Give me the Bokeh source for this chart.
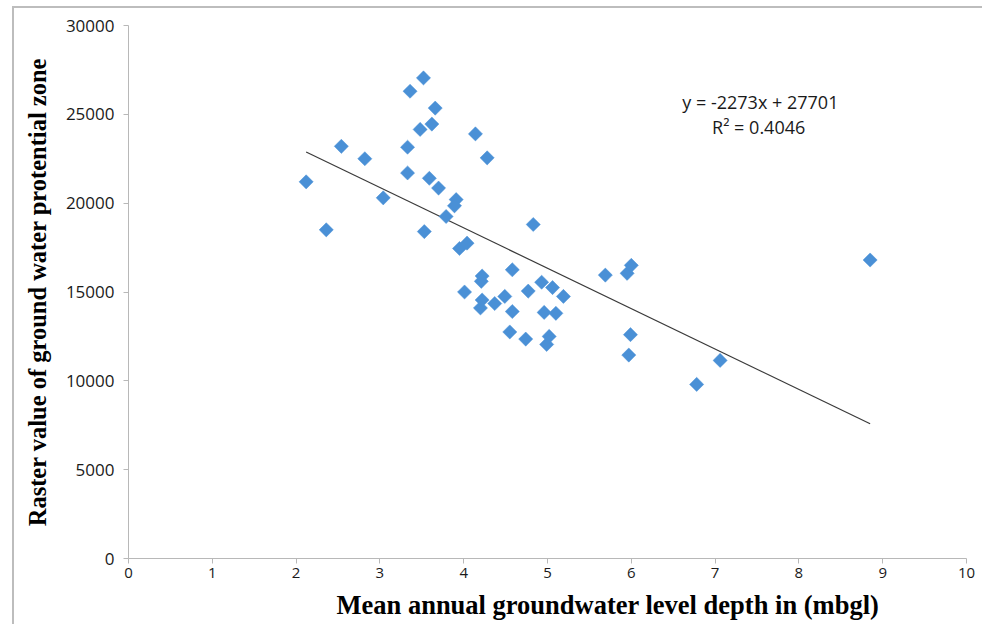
from bokeh.plotting import figure
from bokeh.models import Label, FixedTicker, Range1d, Title
from bokeh.embed import file_html
from bokeh.resources import INLINE

# Mean annual groundwater level depth (mbgl)
depth = [2.12, 2.36, 2.54, 2.82, 3.04, 3.33, 3.33, 3.36, 3.52, 3.48,
         3.53, 3.62, 3.66, 3.59, 3.70, 3.79, 3.91, 3.89, 3.95, 4.04,
         4.14, 4.28, 4.01, 4.22, 4.21, 4.20, 4.22, 4.37, 4.49, 4.58,
         4.58, 4.55, 4.74, 4.77, 4.83, 4.93, 4.96, 4.99, 5.02, 5.06,
         5.10, 5.19, 5.69, 5.95, 6.00, 5.99, 5.97, 6.78, 7.06, 8.85]
# Raster value of ground water potential zone
raster = [21200, 18500, 23200, 22500, 20300, 23150, 21700, 26300, 27050, 24150,
          18400, 24450, 25350, 21400, 20850, 19250, 20200, 19850, 17450, 17750,
          23900, 22550, 15000, 15900, 15600, 14100, 14550, 14350, 14750, 16250,
          13900, 12750, 12350, 15050, 18800, 15550, 13850, 12050, 12500, 15250,
          13800, 14750, 15950, 16050, 16500, 12600, 11450, 9800, 11150, 16800]

slope = -2273
intercept = 27701
r_squared = 0.4046

x_ticks = [0, 1, 2, 3, 4, 5, 6, 7, 8, 9, 10]
y_ticks = [0, 5000, 10000, 15000, 20000, 25000, 30000]
x_title = "Mean annual groundwater level depth in (mbgl)"
y_title = "Raster value of ground water protential zone"

p = figure(width=970, height=618, output_backend="svg", toolbar_location=None,
           x_range=Range1d(0, 10), y_range=Range1d(0, 30000),
           min_border_left=114, min_border_top=17, min_border_right=18,
           min_border_bottom=68)
p.margin = (6, 0, 0, 12)
p.styles = {"border-top": "2px solid #bdbdbd", "border-left": "2px solid #bdbdbd"}
p.outline_line_color = None
p.xgrid.visible = False
p.ygrid.visible = False

axis_color = "#b8b8b8"
for ax in (p.xaxis[0], p.yaxis[0]):
    ax.axis_line_color = axis_color
    ax.major_tick_line_color = axis_color
    ax.minor_tick_line_color = None
    ax.major_tick_out = 5
    ax.major_tick_in = 0
    ax.major_label_text_font = "Open Sans"
    ax.major_label_text_color = "#1a1a1a"
    ax.axis_label_text_font = "Liberation Serif"
    ax.axis_label_text_font_style = "bold"
    ax.axis_label_text_color = "#000000"

p.xaxis.major_label_text_font_size = "15px"
p.yaxis.major_label_text_font_size = "17px"
p.xaxis.ticker = FixedTicker(ticks=x_ticks)
p.yaxis.ticker = FixedTicker(ticks=y_ticks)
p.yaxis.axis_label = y_title
p.yaxis.axis_label_text_font_size = "24.5px"
p.xaxis.major_label_standoff = 4
p.yaxis.major_label_standoff = 9
p.yaxis.axis_label_standoff = 12

# x-axis title, offset to the right as in the original figure
p.add_layout(Title(text=x_title, align="left", offset=208, standoff=14,
                   text_font="Liberation Serif", text_font_style="bold",
                   text_font_size="26.5px", text_color="#000000"), "below")

# trend line
xmin, xmax = min(depth), max(depth)
p.line([xmin, xmax], [slope * xmin + intercept, slope * xmax + intercept],
       line_color="#3a3a3a", line_width=1.2)

p.scatter(depth, raster, marker="square", angle=0.785398, size=10,
          fill_color="#4a90d6", line_color="#4a90d6", line_width=0.5)

p.add_layout(Label(x=7.54, y=25720, text=f"y = {slope}x + {intercept}",
                   text_align="center", text_baseline="middle",
                   text_font="Open Sans", text_font_size="18px", text_color="#1a1a1a"))
p.add_layout(Label(x=7.52, y=24260, text=f"R\u00b2 = {r_squared}",
                   text_align="center", text_baseline="middle",
                   text_font="Open Sans", text_font_size="18px", text_color="#1a1a1a"))

open("out.html", "w").write(file_html(p, INLINE))
